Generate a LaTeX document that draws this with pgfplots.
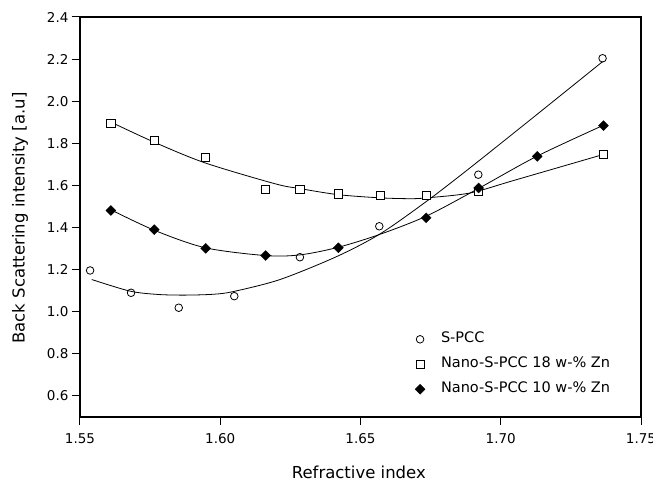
\documentclass[border=0pt]{standalone}
\usepackage{fontspec}
\setmainfont{DejaVu Sans}
\usepackage{pgfplots}
\pgfplotsset{compat=1.18}
\begin{document}
\begin{tikzpicture}
\useasboundingbox (-80pt,-63pt) rectangle (573pt,417pt);
\begin{axis}[
  at={(0pt,0pt)}, anchor=south west,
  scale only axis, width=561pt, height=400pt,
  xmin=1.55, xmax=1.75, ymin=0.5, ymax=2.4,
  xtick={1.55,1.60,1.65,1.70,1.75},
  ytick={0.6,0.8,1.0,1.2,1.4,1.6,1.8,2.0,2.2,2.4},
  xticklabel style={yshift=-5pt, /pgf/number format/.cd, fixed, fixed zerofill, precision=2},
  yticklabel style={/pgf/number format/.cd, fixed, fixed zerofill, precision=1},
  /pgf/number format/assume math mode=true,
  tick pos=left, tick align=outside, major tick length=8pt,
  tick style={line width=1pt, black},
  axis line style={line width=1.2pt},
  ticklabel style={font=\fontsize{13.5}{16}\selectfont},
  xlabel={Refractive index}, ylabel={Back Scattering intensity [a.u]},
  label style={font=\fontsize{16.5}{20}\selectfont},
  xlabel style={at={(axis description cs:0.497,-0.1375)}, anchor=center},
  ylabel style={at={(axis description cs:-0.107,0.4975)}, anchor=center},
  legend style={at={(axis description cs:0.597,0.216)}, anchor=north west, draw=none, fill=none, inner sep=0pt,
    font=\fontsize{14.5}{17}\selectfont, row sep=8pt,
    nodes={text height=10pt, text depth=3pt, inner sep=2pt},
    /tikz/every odd column/.style={column sep=14pt}},
  legend cell align=left,
]
% fitted curves
\addplot[black, line width=0.8pt, smooth, no markers, forget plot] coordinates {
(1.5542,1.153) (1.5678,1.098) (1.5779,1.082) (1.5875,1.079) (1.5975,1.083) (1.6047,1.096)
(1.6213,1.153) (1.6415,1.262) (1.6570,1.370) (1.6736,1.525) (1.6890,1.683) (1.7128,1.936) (1.7363,2.188)};
\addplot[black, line width=0.8pt, smooth, no markers, forget plot] coordinates {
(1.5613,1.899) (1.5767,1.804) (1.5946,1.707) (1.6195,1.608) (1.6284,1.585) (1.6421,1.556)
(1.6570,1.541) (1.6677,1.537) (1.6736,1.541) (1.6890,1.564) (1.7050,1.625) (1.7363,1.746)};
\addplot[black, line width=0.8pt, smooth, no markers, forget plot] coordinates {
(1.5609,1.485) (1.5767,1.386) (1.5946,1.304) (1.6160,1.267) (1.6284,1.270) (1.6420,1.306)
(1.6570,1.368) (1.6736,1.455) (1.6920,1.585) (1.7128,1.738) (1.7363,1.884)};
% data
\addplot[only marks, mark=o, mark size=3.8pt, mark options={fill=white, line width=0.8pt}] coordinates {
(1.5536,1.196) (1.5682,1.090) (1.5852,1.019) (1.6050,1.074) (1.6284,1.259) (1.6567,1.406) (1.6920,1.651) (1.7363,2.204)};
\addlegendentry{S-PCC}
\addplot[only marks, mark=square*, mark size=4.1pt, mark options={fill=white, draw=black, line width=0.8pt}] coordinates {
(1.5610,1.896) (1.5765,1.814) (1.5948,1.732) (1.6162,1.580) (1.6284,1.580) (1.6421,1.560) (1.6570,1.552) (1.6734,1.552) (1.6921,1.571) (1.7366,1.749)};
\addlegendentry{Nano-S-PCC 18 w-\% Zn}
\addplot[only marks, mark=square*, mark size=3.5pt, mark options={rotate=45, fill=black, draw=black}] coordinates {
(1.5610,1.481) (1.5765,1.390) (1.5948,1.301) (1.6162,1.267) (1.6421,1.304) (1.6734,1.446) (1.6921,1.588) (1.7130,1.738) (1.7366,1.884)};
\addlegendentry{Nano-S-PCC 10 w-\% Zn}
\end{axis}
\end{tikzpicture}
\end{document}
